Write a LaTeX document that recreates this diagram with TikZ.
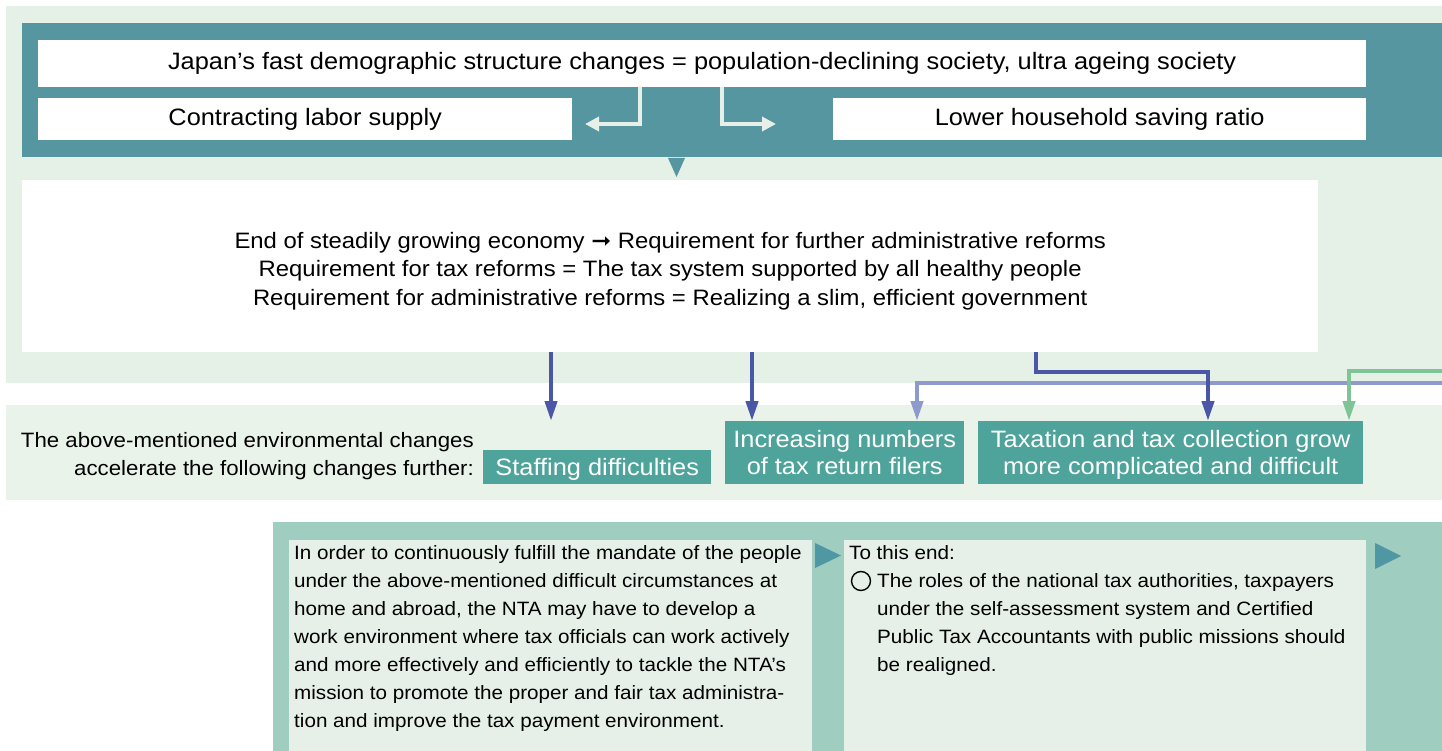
\documentclass[tikz,border=0pt]{standalone}
\usepackage{fontspec}
\setmainfont{Liberation Sans}[FakeStretch=1.07]
\newfontfamily\dejavu{DejaVu Sans}[FakeStretch=1.07]
\usetikzlibrary{arrows.meta}
\definecolor{bgA}{HTML}{E5F0E7}
\definecolor{bgB}{HTML}{EAF3EA}
\definecolor{tealD}{HTML}{5596A1}
\definecolor{tealB}{HTML}{4EA39A}
\definecolor{midG}{HTML}{9FCDC0}
\definecolor{lightG}{HTML}{E6F0E8}
\definecolor{pale}{HTML}{E6F0E8}
\definecolor{dblue}{HTML}{4A56A6}
\definecolor{pblue}{HTML}{8F9ACC}
\definecolor{lgreen}{HTML}{7FC496}
\definecolor{triT}{HTML}{4F97A3}
\tikzset{
  wbox/.style={fill=white, inner sep=0pt, anchor=north west, align=center, font=\fontsize{23.7}{29}\selectfont},
  tbox/.style={fill=tealB, inner sep=0pt, anchor=north west},
  tlabel/.style={text=white, inner sep=0pt, align=center, font=\fontsize{23.7}{27}\selectfont},
  conn/.style={line width=4pt, -{Triangle[length=20pt,width=12pt]}},
  palearrow/.style={draw=pale, line width=4pt, -{Triangle[length=14pt,width=14pt]}},
  bodytext/.style={inner sep=0pt, anchor=north west, align=left, font=\fontsize{19.3}{28}\selectfont}
}
\begin{document}
\begin{tikzpicture}[x=1pt,y=-1pt]
\useasboundingbox (0,0) rectangle (1442,751);
\fill[white] (0,0) rectangle (1442,751);
% top background
\fill[bgA] (6,6) rectangle (1442,383);
\fill[tealD] (22,23) rectangle (1442,157);
\node[wbox, minimum width=1328pt, minimum height=47pt] (top) at (38,40) {Japan’s fast demographic structure changes = population-declining society, ultra ageing society};
\node[wbox, minimum width=534pt, minimum height=42pt] (labor) at (38,98) {Contracting labor supply};
\node[wbox, minimum width=533pt, minimum height=42pt] (saving) at (833,98) {Lower household saving ratio};
\coordinate (la) at (640,87);
\coordinate (lae) at (585,124);
\coordinate (ra) at (722,87);
\coordinate (rae) at (776,124);
\draw[palearrow] (la) |- (lae);
\draw[palearrow] (ra) |- (rae);
\fill[tealD] (668,158) -- (685,158) -- (676.5,177) -- cycle;
\node[wbox, minimum width=1296pt, minimum height=172pt] (econ) at (22,180) {};
\node[inner sep=0pt, align=center, font=\fontsize{22.3}{28.5}\selectfont] (econtext) at ([yshift=-5pt]econ.center) {End of steadily growing economy {\dejavu ➞} Requirement for further administrative reforms\\Requirement for tax reforms = The tax system supported by all healthy people\\Requirement for administrative reforms = Realizing a slim, efficient government};
% second band
\fill[bgB] (6,405) rectangle (1442,500);
\node[inner sep=0pt, anchor=east, align=right, font=\fontsize{20.8}{28}\selectfont] (envtext) at (474,456) {The above-mentioned environmental changes\\accelerate the following changes further:};
\node[tbox, minimum width=228pt, minimum height=34pt] (staff) at (483,450) {};
\node[tlabel] (stafft) at ([yshift=-2pt]staff.center) {Staffing difficulties};
\node[tbox, minimum width=239pt, minimum height=63pt] (filers) at (725,421) {};
\node[tlabel] (filerst) at (filers.center) {Increasing numbers\\of tax return filers};
\node[tbox, minimum width=385pt, minimum height=63pt] (complex) at (978,421) {};
\node[tlabel] (complext) at ([yshift=-2pt]complex.center) {Taxation and tax collection grow\\more complicated and difficult};
% connectors
\coordinate (s1) at (551,352);
\coordinate (s1e) at (551,421);
\draw[conn, draw=dblue] (s1) -- (s1e);
\coordinate (s2) at (752,352);
\draw[conn, draw=dblue] (s2) -- (s2 |- filers.north);
\coordinate (pb0) at (1442,383);
\coordinate (pbe) at (917,421);
\draw[conn, draw=pblue] (pb0) -| (pbe);
\coordinate (db0) at (1036,352);
\coordinate (db1) at (1036,372);
\coordinate (dbe) at (1208,421);
\draw[conn, draw=dblue] (db0) -- (db1) -| (dbe);
\coordinate (g0) at (1442,371);
\coordinate (ge) at (1349,421);
\draw[conn, draw=lgreen] (g0) -| (ge);
% bottom
\fill[midG] (273,522) rectangle (1442,751);
\fill[lightG] (289,540) rectangle (812,751);
\fill[lightG] (844,540) rectangle (1366,751);
\fill[triT] (815,543) -- (841,555.5) -- (815,568) -- cycle;
\fill[triT] (1375,543) -- (1401,556) -- (1375,569) -- cycle;
\node[bodytext] (mandate) at (294,545) {In order to continuously fulfill the mandate of the people\\under the above-mentioned difficult circumstances at\\home and abroad, the NTA may have to develop a\\work environment where tax officials can work actively\\and more effectively and efficiently to tackle the NTA’s\\mission to promote the proper and fair tax administra-\\tion and improve the tax payment environment.};
\node[bodytext] (toend) at (849,545) {To this end:};
\draw[line width=1.4pt] (861,581) circle (9.5pt);
\node[bodytext] (roles) at (877,573) {The roles of the national tax authorities, taxpayers\\under the self-assessment system and Certified\\Public Tax Accountants with public missions should\\be realigned.};
\end{tikzpicture}
\end{document}
